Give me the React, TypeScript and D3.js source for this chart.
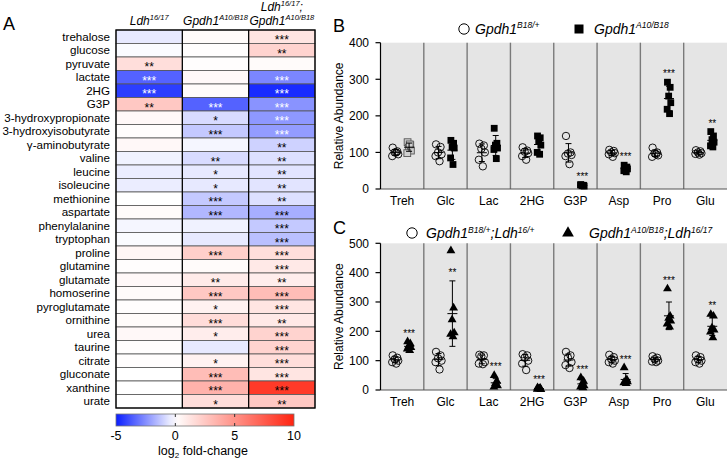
import React from "react";
import * as d3 from "d3";

// ---------------- DATA ----------------
const metabolites = [
  "trehalose", "glucose", "pyruvate", "lactate", "2HG", "G3P",
  "3-hydroxypropionate", "3-hydroxyisobutyrate", "\u03b3-aminobutyrate",
  "valine", "leucine", "isoleucine", "methionine", "aspartate",
  "phenylalanine", "tryptophan", "proline", "glutamine", "glutamate",
  "homoserine", "pyroglutamate", "ornithine", "urea", "taurine",
  "citrate", "gluconate", "xanthine", "urate",
];

const ldhFC = [-0.5, -0.1, 1.5, -3.5, -4.3, 2.5, 0.3, 0.1, 0.3, -0.3, -0.4, -0.4, 0, 0.2,
  -0.2, -0.1, 0.4, 0.1, 0.3, 0.2, 0.1, 0.2, 0.3, 0.1, 0.1, 0, 0, 0];
const gpdhFC = [0.2, 0.1, 0.1, 0.3, 0.2, -3.5, -0.8, -1.2, -0.2, -0.8, -0.5, -0.5, -1.2, -1.6,
  -0.3, -0.5, 2.2, 0.2, 0.9, 2.5, 0.6, 1.6, 0.8, -0.5, 0.6, 3.0, 3.5, 1.5];
const doubleFC = [1.2, 2.0, 0.2, -2.7, -4.7, -2.4, -2.3, -2.2, -1.0, -0.7, -0.6, -0.6, -0.7, -1.8,
  -1.2, -1.4, 1.5, 1.0, 0.8, 3.0, 1.2, 1.0, 2.0, 2.0, 1.5, 1.2, 9.0, 2.5];

const ldhSig = ["", "", "**", "***", "***", "**", "", "", "", "", "", "", "", "",
  "", "", "", "", "", "", "", "", "", "", "", "", "", ""];
const gpdhSig = ["", "", "", "", "", "***", "*", "***", "", "**", "*", "*", "***", "***",
  "", "", "***", "", "**", "***", "*", "***", "*", "", "*", "***", "***", "*"];
const doubleSig = ["***", "**", "", "***", "***", "***", "***", "***", "**", "**", "**", "**", "**", "***",
  "***", "***", "***", "***", "**", "***", "***", "**", "***", "***", "***", "***", "***", "**"];

const colorTicks = [-5, 0, 5, 10];

const categories = ["Treh", "Glc", "Lac", "2HG", "G3P", "Asp", "Pro", "Glu"];

const bControl = [
  [113, 103, 100, 95, 90, 100],
  [122, 115, 100, 95, 90, 76],
  [124, 119, 110, 100, 80, 62],
  [114, 105, 102, 98, 90, 80],
  [145, 100, 97, 93, 90, 68],
  [107, 104, 100, 98, 95, 88],
  [113, 100, 98, 92, 88, 95],
  [106, 103, 100, 98, 96, 94],
];
const bMutant = [
  [128, 120, 113, 105, 98, 122],
  [133, 125, 115, 112, 85, 67],
  [166, 125, 120, 112, 108, 83],
  [145, 140, 130, 120, 100, 95],
  [12, 10, 9, 8, 11, 10],
  [65, 60, 57, 55, 50, 47],
  [292, 278, 254, 236, 218, 206],
  [157, 145, 135, 128, 118, 115],
];
const bSig = ["", "", "", "", "***", "***", "***", "**"];
const bTicks = [0, 100, 200, 300, 400];

const cControl = [
  [118, 110, 105, 100, 95, 90],
  [130, 118, 108, 100, 95, 70],
  [120, 118, 115, 95, 90, 88],
  [122, 118, 110, 100, 90, 68],
  [130, 118, 110, 95, 85, 75],
  [120, 112, 105, 100, 95, 90],
  [115, 110, 105, 100, 97, 95],
  [118, 112, 105, 100, 95, 90],
];
const cMutant = [
  [165, 158, 150, 145, 140, 135],
  [475, 280, 240, 195, 190, 182],
  [50, 30, 22, 15, 10, 20],
  [8, 6, 4, 2, 3, 5],
  [42, 30, 20, 15, 10, 8],
  [76, 35, 30, 28, 25, 22],
  [345, 252, 245, 235, 225, 215],
  [258, 252, 212, 205, 198, 178],
];
const cSig = ["***", "**", "***", "***", "***", "***", "***", "**"];
const cTicks = [0, 100, 200, 300, 400, 500];

// ---------------- STYLE ----------------
const FONT = "'Liberation Sans', Arial, Helvetica, sans-serif";
const jitter = [-2.5, 2, -0.5, 3, -3, 1];

type Part = { t: string; sup?: boolean };

function Rich({ x, y, parts, size, supSize, anchor = "start", italic = true }: {
  x: number; y: number; parts: Part[]; size: number; supSize: number; anchor?: string; italic?: boolean;
}) {
  const shift = size * 0.38;
  let cur = 0;
  return (
    <text x={x} y={y} fontSize={size} fontFamily={FONT} fontStyle={italic ? "italic" : "normal"}
      textAnchor={anchor as any} fill="#000">
      {parts.map((p, i) => {
        const target = p.sup ? -shift : 0;
        const dy = target - cur;
        cur = target;
        return (
          <tspan key={i} dy={dy} fontSize={p.sup ? supSize : size}>{p.t}</tspan>
        );
      })}
    </text>
  );
}

function Heatmap() {
  const cols = ["ldh", "gpdh", "double"];
  const values = [ldhFC, gpdhFC, doubleFC];
  const sigs = [ldhSig, gpdhSig, doubleSig];
  const x = d3.scaleBand().domain(cols).range([116, 315]);
  const y = d3.scaleBand().domain(metabolites).range([30, 408]);
  const color = d3.scaleLinear<string>().domain([-5, 0, 10])
    .range(["#0a1eff", "#ffffff", "#ff2410"]).clamp(true);
  const cb = d3.scaleLinear().domain([-5, 10]).range([116, 294]);
  const stops = d3.range(0, 1.0001, 0.05);
  const bw = x.bandwidth();
  const bh = y.bandwidth();
  return (
    <g>
      <defs>
        <linearGradient id="cbGrad" x1="0" x2="1" y1="0" y2="0">
          {stops.map((s, i) => (
            <stop key={i} offset={s} stopColor={color(-5 + 15 * s)} />
          ))}
        </linearGradient>
      </defs>
      <text x={3} y={30} fontSize={18} fontFamily={FONT}>A</text>
      {/* headers */}
      <Rich x={x("ldh")! + bw / 2} y={24.5} anchor="middle" size={12} supSize={7.5}
        parts={[{ t: "Ldh" }, { t: "16/17", sup: true }]} />
      <Rich x={x("gpdh")! + bw / 2} y={24.5} anchor="middle" size={12} supSize={7.5}
        parts={[{ t: "Gpdh1" }, { t: "A10/B18", sup: true }]} />
      <Rich x={x("double")! + bw / 2} y={11} anchor="middle" size={12} supSize={7.5}
        parts={[{ t: "Ldh" }, { t: "16/17", sup: true }, { t: ";" }]} />
      <Rich x={x("double")! + bw / 2} y={24.5} anchor="middle" size={12} supSize={7.5}
        parts={[{ t: "Gpdh1" }, { t: "A10/B18", sup: true }]} />
      {metabolites.map((m) => (
        <text key={m} x={110} y={y(m)! + bh / 2 + 4.2} fontSize={11.6} fontFamily={FONT}
          textAnchor="end">{m}</text>
      ))}
      {cols.map((c, ci) =>
        metabolites.map((m, r) => (
          <rect key={c + m} x={x(c)} y={y(m)} width={bw} height={bh}
            fill={color(values[ci][r])} stroke="#555" strokeWidth={0.8} />
        ))
      )}
      {cols.map((c, ci) =>
        metabolites.map((m, r) => sigs[ci][r] ? (
          <text key={"s" + c + m} x={x(c)! + bw / 2} y={y(m)! + bh / 2 + 7.5}
            fontSize={12} fontFamily={FONT} textAnchor="middle"
            fill={values[ci][r] < -2 ? "#ffffff" : "#000"}>{sigs[ci][r]}</text>
        ) : null)
      )}
      {cols.slice(1).map(c => (
        <line key={"v" + c} x1={x(c)} x2={x(c)} y1={30} y2={408} stroke="#000" strokeWidth={1.2} />
      ))}
      <rect x={116} y={30} width={199} height={378} fill="none" stroke="#000" strokeWidth={1.3} />
      {/* colorbar */}
      <rect x={116} y={414} width={178} height={12} fill="url(#cbGrad)" stroke="#777" strokeWidth={0.8} />
      {[0, 5].map(t => (
        <g key={"cbt" + t}>
          <line x1={cb(t)} x2={cb(t)} y1={414} y2={417} stroke="#333" strokeWidth={1} />
          <line x1={cb(t)} x2={cb(t)} y1={423} y2={426} stroke="#333" strokeWidth={1} />
        </g>
      ))}
      {colorTicks.map(t => (
        <text key={"cbl" + t} x={cb(t)} y={440} fontSize={12.5} fontFamily={FONT} textAnchor="middle">{t}</text>
      ))}
      <text x={203} y={455} fontSize={12.5} fontFamily={FONT} textAnchor="middle">
        <tspan>log</tspan><tspan fontSize={8} dy={3}>2</tspan><tspan dy={-3}> fold-change</tspan>
      </text>
    </g>
  );
}

function meanSd(v: number[]) {
  const m = d3.mean(v)!;
  const s = d3.deviation(v)!;
  return [m, s];
}

function ScatterPanel({ top, bottom, maxY, ticks, control, mutant, sig, marker, label, legend }: {
  top: number; bottom: number; maxY: number; ticks: number[]; control: number[][]; mutant: number[][];
  sig: string[]; marker: "square" | "triangle"; label: string; legend: React.ReactNode;
}) {
  const left = 380.5, right = 727;
  const x = d3.scaleBand().domain(categories).range([left, right]);
  const y = d3.scaleLinear().domain([0, maxY]).range([bottom, top]);
  const bw = x.bandwidth();
  const tri = d3.symbol().type(d3.symbolTriangle).size(34)()!;

  const errBar = (cx: number, v: number[], key: string) => {
    const [m, s] = meanSd(v);
    return (
      <g key={key} stroke="#000" strokeWidth={1}>
        <line x1={cx} x2={cx} y1={y(m - s)} y2={y(m + s)} />
        <line x1={cx - 3} x2={cx + 3} y1={y(m + s)} y2={y(m + s)} />
        <line x1={cx - 3} x2={cx + 3} y1={y(m - s)} y2={y(m - s)} />
        <line x1={cx - 5} x2={cx + 5} y1={y(m)} y2={y(m)} />
      </g>
    );
  };

  return (
    <g>
      <text x={333} y={label === "B" ? 32 : 234} fontSize={18} fontFamily={FONT}>{label}</text>
      <rect x={left} y={top} width={right - left} height={bottom - top} fill="#e5e5e5" />
      {categories.slice(1).map(c => (
        <line key={"sep" + c} x1={x(c)} x2={x(c)} y1={top} y2={bottom} stroke="#7a7a7a" strokeWidth={1.4} />
      ))}
      <line x1={left} x2={right} y1={bottom} y2={bottom} stroke="#555" strokeWidth={1.2} />
      <line x1={left} x2={left} y1={top} y2={bottom} stroke="#000" strokeWidth={1.2} />
      {ticks.map(t => (
        <g key={"t" + t}>
          <line x1={left - 5} x2={left} y1={y(t)} y2={y(t)} stroke="#000" strokeWidth={1.2} />
          <text x={369} y={y(t) + 4.3} fontSize={12} fontFamily={FONT} textAnchor="end">{t}</text>
        </g>
      ))}
      <text transform={`translate(343,${(top + bottom) / 2}) rotate(-90)`} fontSize={12}
        fontFamily={FONT} textAnchor="middle">Relative Abundance</text>
      {categories.map((c, i) => {
        const x0 = x(c)!;
        const cx1 = x0 + bw * 0.34;
        const cx2 = x0 + bw * 0.66;
        const mut = mutant[i];
        const [m2, s2] = meanSd(mut);
        const maxP = d3.max(mut)!;
        const anchorV = y(maxP) - 15 > top ? Math.max(maxP, m2 + s2) : m2 + s2;
        const faint = marker === "square" && i === 0;
        return (
          <g key={c}>
            <text x={x0 + bw / 2} y={bottom + 16} fontSize={12} fontFamily={FONT} textAnchor="middle">{c}</text>
            {control[i].map((v, j) => (
              <circle key={"c" + j} cx={cx1 + jitter[j]} cy={y(v)} r={3.7} fill="none" stroke="#000" strokeWidth={0.9} />
            ))}
            {errBar(cx1, control[i], "e1")}
            {mut.map((v, j) => marker === "square" ? (
              <rect key={"m" + j} x={cx2 + jitter[j] * 0.6 - 3.4} y={y(v) - 3.4} width={6.8} height={6.8}
                fill={faint ? "#cfcfcf" : "#000"} stroke={faint ? "#555" : "none"} strokeWidth={0.9} />
            ) : (
              <path key={"m" + j} d={tri} transform={`translate(${cx2 + jitter[j] * 0.6},${y(v)})`} fill="#000" />
            ))}
            {errBar(cx2, mut, "e2")}
            {sig[i] ? (
              <text x={cx2} y={y(anchorV) - 5} fontSize={10} fontFamily={FONT} textAnchor="middle" fill="#000">{sig[i]}</text>
            ) : null}
          </g>
        );
      })}
      {legend}
    </g>
  );
}

export default function App() {
  const triLegend = d3.symbol().type(d3.symbolTriangle).size(60)()!;
  const legendB = (
    <g>
      <circle cx={464} cy={29} r={5.2} fill="none" stroke="#000" strokeWidth={1} />
      <Rich x={475} y={33.5} size={14} supSize={8.5} parts={[{ t: "Gpdh1" }, { t: "B18/+", sup: true }]} />
      <rect x={574.5} y={24.5} width={9} height={9} fill="#000" />
      <Rich x={594} y={33.5} size={14} supSize={8.5} parts={[{ t: "Gpdh1" }, { t: "A10/B18", sup: true }]} />
    </g>
  );
  const legendC = (
    <g>
      <circle cx={412} cy={233} r={5.2} fill="none" stroke="#000" strokeWidth={1} />
      <Rich x={426} y={238} size={14} supSize={8.5}
        parts={[{ t: "Gpdh1" }, { t: "B18/+", sup: true }, { t: ";Ldh" }, { t: "16/+", sup: true }]} />
      <path d={triLegend} transform="translate(568,233)" fill="#000" />
      <Rich x={589} y={238} size={14} supSize={8.5}
        parts={[{ t: "Gpdh1" }, { t: "A10/B18", sup: true }, { t: ";Ldh" }, { t: "16/17", sup: true }]} />
    </g>
  );
  return (
    <svg width={728} height={461} style={{ position: "absolute", left: 0, top: 0, background: "#fff" }}>
      <rect width={728} height={461} fill="#fff" />
      <Heatmap />
      <ScatterPanel top={42.7} bottom={189} maxY={400} ticks={bTicks} control={bControl} mutant={bMutant}
        sig={bSig} marker="square" label="B" legend={legendB} />
      <ScatterPanel top={243.3} bottom={390} maxY={500} ticks={cTicks} control={cControl} mutant={cMutant}
        sig={cSig} marker="triangle" label="C" legend={legendC} />
    </svg>
  );
}
